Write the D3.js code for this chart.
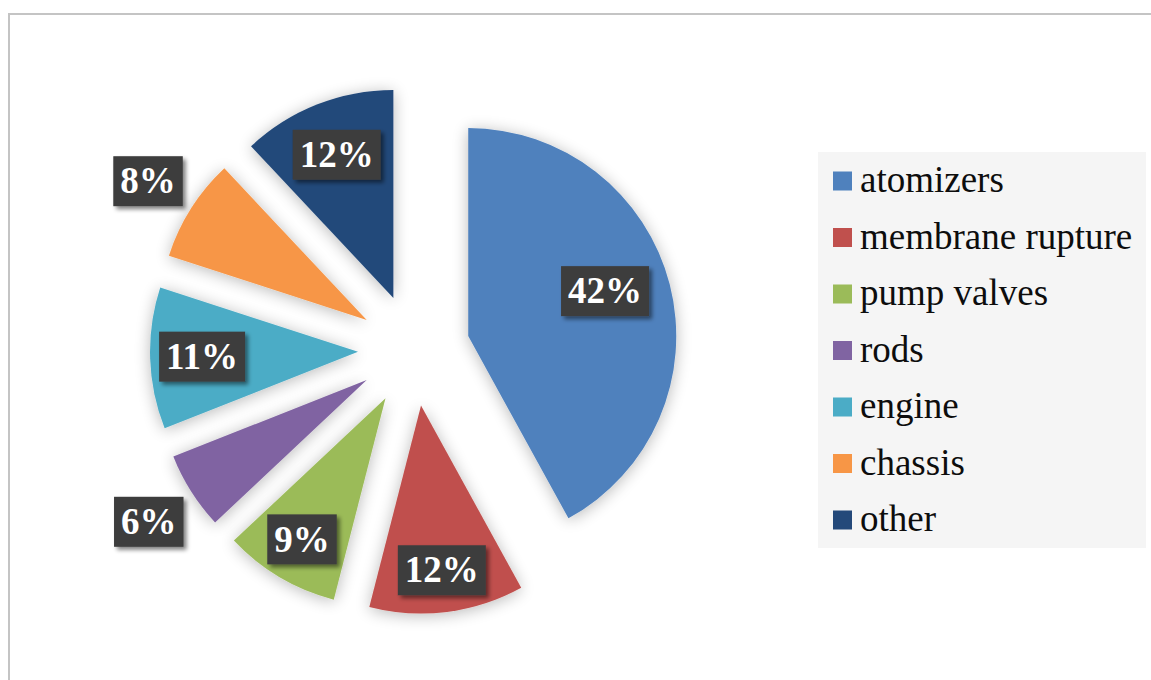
<!DOCTYPE html>
<html>
<head>
<meta charset="utf-8">
<script src="https://cdn.jsdelivr.net/npm/d3@7"></script>
<style>
  html, body { margin: 0; padding: 0; background: #ffffff; }
  svg { display: block; }
</style>
</head>
<body>
<svg id="chart" width="1151" height="680"></svg>
<script>
// ---- data ----
const categories = ["atomizers", "membrane rupture", "pump valves", "rods", "engine", "chassis", "other"];
const values = [42, 12, 9, 6, 11, 8, 12];
const colors = ["#4f81bd", "#c0504d", "#9bbb59", "#8064a2", "#4bacc6", "#f79646", "#24497a"];

// ---- layout config (label placement: distance from slice apex, fraction of slice angle) ----
const labelDist = [144, 166, 164, 260, 156, 259, 154];
const labelAngleFrac = [0.475, 0.5, 0.5, 0.47, 0.5, 0.5, 0.5];

const W = 1151, H = 680;
const cx = 414, cy = 350, R = 208, explode = 56;
const serifFont = "Liberation Serif";

const svg = d3.select("#chart");
const defs = svg.append("defs");

const sh = defs.append("filter").attr("id", "sliceShadow")
  .attr("x", "-30%").attr("y", "-30%").attr("width", "160%").attr("height", "160%");
sh.append("feGaussianBlur").attr("in", "SourceAlpha").attr("stdDeviation", 8).attr("result", "b");
sh.append("feOffset").attr("in", "b").attr("dx", 0).attr("dy", 2).attr("result", "o");
sh.append("feComponentTransfer").attr("in", "o").attr("result", "s")
  .append("feFuncA").attr("type", "linear").attr("slope", 0.28);
const m1 = sh.append("feMerge");
m1.append("feMergeNode").attr("in", "s");
m1.append("feMergeNode").attr("in", "SourceGraphic");

const bs = defs.append("filter").attr("id", "boxShadow")
  .attr("x", "-20%").attr("y", "-20%").attr("width", "150%").attr("height", "150%");
bs.append("feGaussianBlur").attr("in", "SourceAlpha").attr("stdDeviation", 2).attr("result", "b");
bs.append("feOffset").attr("in", "b").attr("dx", 3).attr("dy", 3).attr("result", "o");
bs.append("feComponentTransfer").attr("in", "o").attr("result", "s")
  .append("feFuncA").attr("type", "linear").attr("slope", 0.5);
const m2 = bs.append("feMerge");
m2.append("feMergeNode").attr("in", "s");
m2.append("feMergeNode").attr("in", "SourceGraphic");

// outer chart border
svg.append("rect").attr("x", 9).attr("y", 14).attr("width", W + 20).attr("height", H + 20)
  .attr("fill", "#ffffff").attr("stroke", "#c4c4c4").attr("stroke-width", 2);

const total = d3.sum(values);
const pie = d3.pie().sort(null).value(d => d).startAngle(0).endAngle(2 * Math.PI);
const arcs = pie(values);
const arc = d3.arc().innerRadius(0).outerRadius(R);

const gPie = svg.append("g").attr("transform", `translate(${cx},${cy})`);

function dirOf(a) { return [Math.sin(a), -Math.cos(a)]; }

arcs.forEach((d) => {
  const mid = (d.startAngle + d.endAngle) / 2;
  const [dx, dy] = dirOf(mid);
  d.ox = dx * explode; d.oy = dy * explode;
});

gPie.selectAll("path.slice").data(arcs).join("path")
  .attr("class", "slice")
  .attr("transform", d => `translate(${d.ox},${d.oy})`)
  .attr("d", arc)
  .attr("fill", (d, i) => colors[i])
  .attr("filter", "url(#sliceShadow)");

// labels
const fmt = v => Math.round(v / total * 100) + "%";
const fs = 37;
const labels = gPie.selectAll("g.lbl").data(arcs).join("g").attr("class", "lbl")
  .attr("transform", (d, i) => {
    const a = d.startAngle + (d.endAngle - d.startAngle) * labelAngleFrac[i];
    const [dx, dy] = dirOf(a);
    return `translate(${d.ox + dx * labelDist[i]},${d.oy + dy * labelDist[i]})`;
  });

labels.each(function(d, i) {
  const g = d3.select(this);
  const rect = g.append("rect").attr("fill", "#3d3d3d").attr("filter", "url(#boxShadow)");
  const t = g.append("text")
    .attr("text-anchor", "middle")
    .attr("y", fs * 0.33)
    .attr("font-family", serifFont).attr("font-weight", "bold").attr("font-size", fs)
    .attr("fill", "#ffffff")
    .text(fmt(values[i]));
  const w = t.node().getComputedTextLength() + 14;
  const h = 50;
  rect.attr("x", -w / 2).attr("y", -h / 2).attr("width", w).attr("height", h);
});

// legend
const lg = svg.append("g");
lg.append("rect").attr("x", 818).attr("y", 152).attr("width", 328).attr("height", 396).attr("fill", "#f5f5f5");
const ly = d3.scalePoint().domain(categories).range([181, 520]);
const items = lg.selectAll("g.item").data(categories).join("g").attr("class", "item")
  .attr("transform", d => `translate(0,${ly(d)})`);
items.append("rect").attr("x", 833).attr("y", -9.5).attr("width", 19).attr("height", 19)
  .attr("fill", (d, i) => colors[i]);
items.append("text").attr("x", 860).attr("y", 11)
  .attr("font-family", serifFont).attr("font-size", fs).attr("fill", "#0d0d0d")
  .text(d => d);
</script>
</body>
</html>
